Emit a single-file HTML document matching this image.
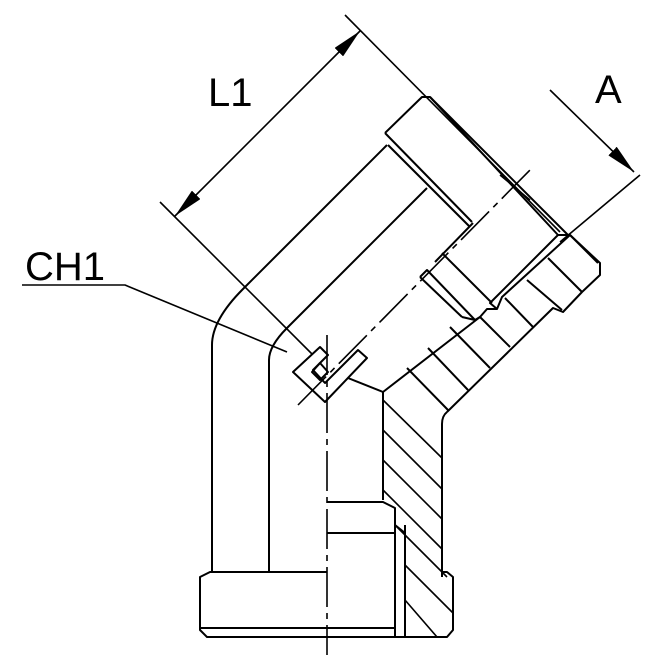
<!DOCTYPE html>
<html><head><meta charset="utf-8"><style>html,body{margin:0;padding:0;background:#fff}svg{display:block}</style></head>
<body>
<svg width="670" height="670" viewBox="0 0 670 670" xmlns="http://www.w3.org/2000/svg" fill="none" stroke="#000" stroke-width="2" stroke-linejoin="round">
<defs>
<marker id="a2" viewBox="0 0 30 12" refX="30" refY="6" markerWidth="30" markerHeight="12" orient="auto-start-reverse" markerUnits="userSpaceOnUse"><path d="M0,0L30,6L0,12z" fill="#000" stroke="none"/></marker></defs>
<g font-family="Liberation Sans, sans-serif" font-size="40" fill="#000" stroke="none">
<text x="208" y="106">L1</text><text x="595" y="103">A</text><text x="25" y="280">CH1</text></g>
<!-- dimension L1 -->
<line x1="175" y1="216" x2="360" y2="31" marker-start="url(#a2)" marker-end="url(#a2)" stroke-width="1.6"/>
<line x1="160" y1="202" x2="320" y2="362" stroke-width="1.6"/>
<line x1="345" y1="15" x2="560" y2="232" stroke-width="1.6"/>
<!-- dimension A -->
<line x1="550" y1="90" x2="634" y2="172" marker-end="url(#a2)" stroke-width="1.6"/>
<line x1="640" y1="175" x2="560" y2="242" stroke-width="1.6"/>
<!-- CH1 leader -->
<polyline points="22,285 125,285 287,352" stroke-width="1.6"/>
<!-- top nut -->
<polyline points="385,133 422,97 430,97 558,235 570,235 600,263 600,275 582,292 563,312 553,308 447,412"/>
<line x1="430" y1="97" x2="568" y2="235"/>
<line x1="570" y1="235" x2="598" y2="263"/>
<line x1="385" y1="133" x2="472" y2="222"/>
<line x1="388" y1="145" x2="469" y2="226"/>
<line x1="473" y1="223" x2="435" y2="262"/>
<line x1="442" y1="253" x2="492" y2="303"/>
<polyline points="420,277 427,270 475,320 480,317"/>
<line x1="420" y1="277" x2="462" y2="317"/>
<polyline points="462,317 475,320"/>
<polyline points="558,235 490,303 497,309 502,297 570,235"/>
<polyline points="497,309 487,309 480,317 383,392"/>
<!-- ribs -->
<line x1="548" y1="258" x2="582" y2="292"/>
<line x1="527" y1="280" x2="562" y2="310"/>
<line x1="505" y1="298" x2="533" y2="327"/>
<line x1="480" y1="317" x2="510" y2="347"/>
<line x1="450" y1="327" x2="490" y2="368"/>
<line x1="428" y1="348" x2="468" y2="390"/>
<line x1="407" y1="368" x2="448" y2="410"/>
<!-- body outer left -->
<path d="M387,145 L243,289 Q212,320 212,345 L212,572"/>
<path d="M427,188 L287,328 Q269,346 269,360 L269,572"/>
<!-- right body -->
<path d="M447,412 Q442,416 442,424 L442,577"/>
<polyline points="383,500 383,392"/>
<!-- hatching -->
<g stroke-width="1.6">
<line x1="383" y1="400" x2="442" y2="458"/><line x1="383" y1="430" x2="442" y2="489"/>
<line x1="383" y1="460" x2="442" y2="519"/><line x1="383" y1="490" x2="442" y2="549"/>
<line x1="395" y1="525" x2="447" y2="577"/><line x1="405" y1="565" x2="453" y2="613"/>
<line x1="405" y1="600" x2="437" y2="637"/>
</g>
<!-- CH1 symbol -->
<polygon points="293,372 320,347 328,355 313,370 325,383 358,350 367,358 325,402" fill="#fff"/>
<polygon points="312,372 320,363 328,372 320,380"/>
<line x1="348" y1="378" x2="383" y2="392"/>
<!-- bottom nut -->
<polyline points="327,572 210,572 200,577 200,630 207,637 447,637 453,630 453,577 447,572 442,572"/>
<line x1="200" y1="628" x2="327" y2="628"/>
<polyline points="327,502 383,502 395,508 395,637"/>
<line x1="327" y1="533" x2="395" y2="533"/><line x1="327" y1="628" x2="395" y2="628"/>
<line x1="405" y1="525" x2="405" y2="637"/><line x1="395" y1="525" x2="405" y2="533"/>
<!-- centerlines -->
<line x1="327" y1="335" x2="327" y2="655" stroke-width="1.6" stroke-dasharray="40,6,6,6"/>
<line x1="298" y1="405" x2="530" y2="170" stroke-width="1.6" stroke-dasharray="40,6,6,6"/>
<line x1="500" y1="175" x2="530" y2="200" stroke-width="1.6"/>
</svg>
</body></html>
